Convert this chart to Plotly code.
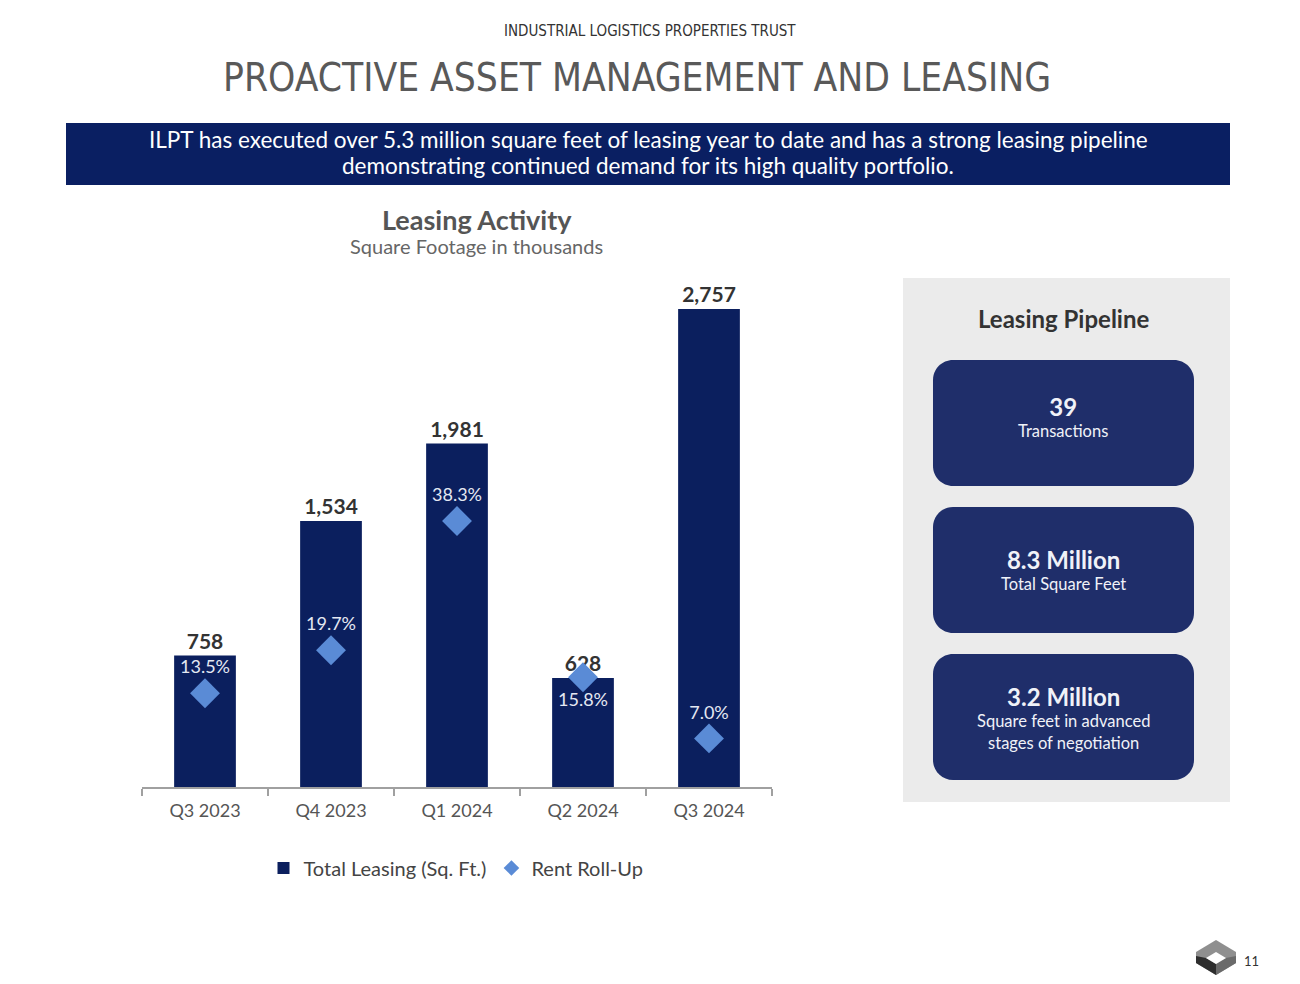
import plotly.graph_objects as go

# page offset (browser body margin) compensation
OFF = 8
W, H = 1300 - OFF, 984 - OFF

# ---------------- data ----------------
quarters = ["Q3 2023", "Q4 2023", "Q1 2024", "Q2 2024", "Q3 2024"]
total_leasing = [758, 1534, 1981, 628, 2757]          # thousands of sq. ft.
rent_roll_up = [13.5, 19.7, 38.3, 15.8, 7.0]           # percent

header_text = "INDUSTRIAL LOGISTICS PROPERTIES TRUST"
title_text = "PROACTIVE ASSET MANAGEMENT AND LEASING"
banner_lines = [
    "ILPT has executed over 5.3 million square feet of leasing year to date and has a strong leasing pipeline",
    "demonstrating continued demand for its high quality portfolio.",
]
chart_title = "Leasing Activity"
chart_subtitle = "Square Footage in thousands"
pipeline_title = "Leasing Pipeline"
pipeline_values = ["39", "8.3 Million", "3.2 Million"]
pipeline_labels = [["Transactions"], ["Total Square Feet"],
                   ["Square feet in advanced", "stages of negotiation"]]
page_number = "11"

# ---------------- style ----------------
NAVY = "#0b1f5e"
BANNER = "#0a1f62"
CARD = "#1f2e6a"
DIAMOND = "#5a8bd6"
PANEL = "#ebebeb"
FONT = "Lato"
NARROW = "DejaVu Sans Condensed, Roboto, sans-serif"


def fx(x):
    return (x - OFF) / W


def fy(y):
    return 1 - (y - OFF) / H


def rrect_path(x0, y0, x1, y1, r):
    k = 0.5523 * r
    pts = [
        ("M", [(x0 + r, y0)]),
        ("L", [(x1 - r, y0)]),
        ("C", [(x1 - r + k, y0), (x1, y0 + r - k), (x1, y0 + r)]),
        ("L", [(x1, y1 - r)]),
        ("C", [(x1, y1 - r + k), (x1 - r + k, y1), (x1 - r, y1)]),
        ("L", [(x0 + r, y1)]),
        ("C", [(x0 + r - k, y1), (x0, y1 - r + k), (x0, y1 - r)]),
        ("L", [(x0, y0 + r)]),
        ("C", [(x0, y0 + r - k), (x0 + r - k, y0), (x0 + r, y0)]),
    ]
    s = ""
    for cmd, ps in pts:
        s += cmd + " ".join(f"{fx(a):.5f},{fy(b):.5f}" for a, b in ps) + " "
    return s + "Z"


def poly_path(points):
    return "M" + " L".join(f"{fx(a):.5f},{fy(b):.5f}" for a, b in points) + " Z"


fig = go.Figure()

fig.add_trace(go.Bar(
    x=quarters, y=total_leasing, name="Total Leasing (Sq. Ft.)",
    marker=dict(color=NAVY, line=dict(width=0)),
    width=0.49,
    text=[f"{v:,}" for v in total_leasing],
    texttemplate="<b>%{text}</b>",
    textposition="outside",
    textfont=dict(family=FONT, size=21, color="#333333"),
    cliponaxis=False,
    hoverinfo="skip",
))

fig.add_trace(go.Scatter(
    x=quarters, y=rent_roll_up, name="Rent Roll-Up", yaxis="y2",
    mode="markers+text",
    marker=dict(symbol="diamond", size=23, color=DIAMOND, line=dict(width=0)),
    text=[f"{v:.1f}%" for v in rent_roll_up],
    textposition=["top center", "top center", "top center", "bottom center", "top center"],
    textfont=dict(family=FONT, size=18, color="#e4e8f2"),
    cliponaxis=False,
    hoverinfo="skip",
))

shapes = []
# banner
shapes.append(dict(type="rect", xref="paper", yref="paper", layer="below",
                   x0=fx(66), x1=fx(1230), y0=fy(185), y1=fy(123),
                   fillcolor=BANNER, line=dict(width=0)))
# pipeline panel
shapes.append(dict(type="rect", xref="paper", yref="paper", layer="below",
                   x0=fx(903), x1=fx(1230), y0=fy(802), y1=fy(278),
                   fillcolor=PANEL, line=dict(width=0)))
# cards
card_tops = [360, 507, 654]
for t in card_tops:
    shapes.append(dict(type="path", xref="paper", yref="paper", layer="below",
                       path=rrect_path(933, t, 1194, t + 126, 20),
                       fillcolor=CARD, line=dict(width=0)))
# logo (isometric cube)
T, R, RB, B, LB, L = (1216, 940), (1236, 952), (1236, 963), (1216, 975), (1196, 963), (1196, 952)
hl, ht, hr, hb = (1206, 958), (1216, 952), (1226, 958), (1216, 964)
shapes.append(dict(type="path", xref="paper", yref="paper",
                   path=poly_path([T, R, RB, B, LB, L]), fillcolor="#8f8f8f", line=dict(width=0)))
shapes.append(dict(type="path", xref="paper", yref="paper",
                   path=poly_path([(1196, 956), hl, hb, B, LB]), fillcolor="#2e2e2e", line=dict(width=0)))
shapes.append(dict(type="path", xref="paper", yref="paper",
                   path=poly_path([hb, hr, (1236, 956), RB, B]), fillcolor="#6a6a6a", line=dict(width=0)))
shapes.append(dict(type="path", xref="paper", yref="paper",
                   path=poly_path([hl, ht, hr, hb]), fillcolor="#ffffff", line=dict(width=0)))

annotations = []


def add_text(text, x, y, size, color, family=FONT, bold=False, weight=None):
    f = dict(family=family, size=size, color=color)
    if weight is not None:
        f["weight"] = weight
    annotations.append(dict(
        text=f"<b>{text}</b>" if bold else text,
        x=fx(x), y=fy(y), xref="paper", yref="paper",
        xanchor="center", yanchor="middle", showarrow=False,
        font=f,
    ))


add_text(header_text, 650, 31, 15, "#333333", family=NARROW)
add_text(title_text, 637, 77, 38.6, "#595959", family=NARROW)
add_text(banner_lines[0], 648, 140, 22.5, "#ffffff")
add_text(banner_lines[1], 648, 165, 22.5, "#ffffff")
add_text(chart_title, 477, 220, 27, "#555555", bold=True)
add_text(chart_subtitle, 477, 246, 20, "#666666")
add_text(pipeline_title, 1063, 319, 24, "#333333", bold=True)

# card texts: value (bold) + label lines in one text block
card_centers = [416, 569, 717]
for i, t in enumerate(card_tops):
    block = (f"<span style='font-size:24px'><b>{pipeline_values[i]}</b></span><br>"
             + "<br>".join(pipeline_labels[i]))
    add_text(block, 1063, card_centers[i], 16.5, "#f0f2f8")

add_text(page_number, 1251, 961, 13, "#333333")

fig.update_layout(
    width=W, height=H,
    margin=dict(l=0, r=0, t=0, b=0),
    paper_bgcolor="#ffffff",
    plot_bgcolor="rgba(0,0,0,0)",
    showlegend=True,
    legend=dict(orientation="h", x=fx(456), y=fy(868), xanchor="center", yanchor="middle",
                font=dict(family=FONT, size=20, color="#444444"),
                itemsizing="constant",
                bgcolor="rgba(0,0,0,0)", itemclick=False, itemdoubleclick=False),
    xaxis=dict(domain=[fx(142), fx(772)], range=[-0.5, 4.5], type="category",
               showline=True, linecolor="#a0a0a0", linewidth=1.5,
               ticks="outside", tickson="boundaries", ticklen=7, tickcolor="#a0a0a0", tickwidth=1.5,
               ticklabelstandoff=7,
               tickfont=dict(family=FONT, size=18, color="#555555"),
               showgrid=False, zeroline=False, fixedrange=True),
    yaxis=dict(domain=[fy(787), fy(270)], range=[0, 2982], visible=False, fixedrange=True),
    yaxis2=dict(overlaying="y", range=[0, 74.44], visible=False, fixedrange=True),
    shapes=shapes,
    annotations=annotations,
    bargap=0.51,
)

fig.write_html("out.html", config={"displayModeBar": False})
